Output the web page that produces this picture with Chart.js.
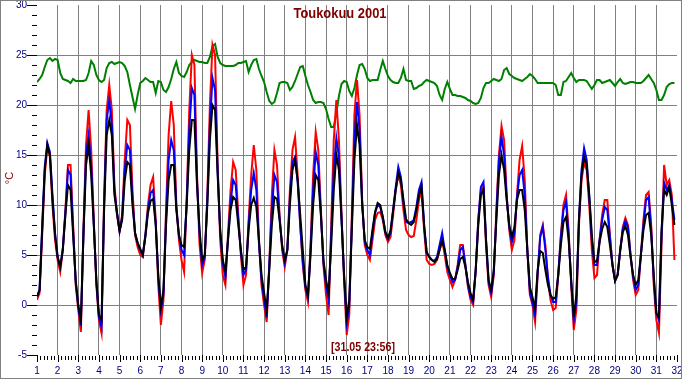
<!DOCTYPE html>
<html>
<head>
<meta charset="utf-8">
<script src="https://cdn.jsdelivr.net/npm/chart.js@4"></script>
<style>
  html, body { margin: 0; padding: 0; background: #ffffff; }
  #wrap { width: 682px; height: 380px; position: relative; }
  canvas { display: block; background: #ffffff; }
</style>
</head>
<body>
<div id="wrap"><canvas id="c" width="682" height="380"></canvas></div>
<script>
// ---- Data (3-hour samples starting at day 1, 00:00) ----
const samplesPerDay = 8;
const firstDay = 1;

const greenSeries = [
  22.3,22.6,23.0,23.8,24.5,24.7,24.4,24.6,
  24.5,23.2,22.6,22.5,22.4,22.2,22.6,22.4,
  22.4,22.4,22.4,22.5,23.2,24.4,24.0,23.0,
  22.5,22.3,22.5,23.7,24.2,24.3,24.1,24.2,
  24.3,24.2,23.9,23.3,22.0,20.8,19.6,21.0,
  22.2,22.4,22.7,22.5,22.3,22.3,21.2,22.4,
  22.3,21.5,21.3,21.8,22.6,23.6,24.3,23.2,
  22.9,22.8,23.3,24.0,24.3,24.5,24.4,24.3,
  24.3,24.2,24.2,24.8,25.9,26.1,24.8,24.2,
  24.0,23.9,23.9,23.9,23.9,24.0,24.2,24.2,
  24.3,24.4,23.3,24.0,24.5,24.6,23.6,22.9,
  22.3,21.3,20.4,20.1,20.3,21.2,22.2,22.3,
  22.3,22.2,21.5,21.8,22.4,23.1,23.8,23.9,
  22.9,22.0,21.3,20.5,20.2,20.3,20.3,20.2,
  19.6,18.6,17.8,17.8,19.2,20.9,22.1,22.4,
  22.3,21.4,20.9,21.7,23.0,24.0,24.1,23.6,
  22.7,22.4,22.5,22.5,22.5,23.5,24.4,23.6,
  22.9,22.5,22.3,22.2,22.2,22.7,23.6,22.5,
  22.4,22.4,21.6,21.7,21.9,22.0,22.3,22.5,
  22.4,22.3,22.2,21.9,21.0,20.5,21.6,22.3,
  21.6,21.0,21.0,20.9,20.9,20.8,20.7,20.5,
  20.4,20.2,20.1,20.2,20.7,21.7,22.2,22.2,
  22.4,22.6,22.5,22.4,22.6,23.5,23.7,23.1,
  22.9,22.7,22.6,22.5,22.4,22.6,22.8,23.1,
  22.9,22.6,22.2,22.2,22.2,22.2,22.2,22.2,
  22.2,22.0,21.0,21.0,22.3,22.4,22.8,23.2,
  22.7,22.3,22.5,22.5,22.5,22.4,22.0,21.6,
  22.0,22.5,22.5,22.2,22.3,22.4,22.5,22.2,
  21.9,22.3,22.6,22.2,22.1,22.2,22.3,22.3,
  22.2,22.2,22.2,22.4,22.7,23.0,22.6,22.2,
  21.5,20.5,20.5,21.0,21.8,22.1,22.2,22.2
];

const redSeries = [
  0.5,1.2,7.0,13.0,15.8,14.8,10.0,6.5,
  4.5,3.3,5.5,9.5,14.0,14.0,8.0,2.0,
  -0.5,-2.7,7.5,16.0,19.5,15.5,8.5,2.0,
  -1.5,-2.8,10.5,19.5,22.0,19.5,12.0,9.0,
  7.4,9.0,14.5,18.5,18.0,11.5,7.0,5.8,
  5.0,4.8,7.0,10.0,12.0,12.8,8.5,2.0,
  -2.0,0.5,9.5,17.0,20.4,18.0,10.0,6.5,
  4.5,3.3,10.5,19.5,25.0,24.0,13.0,6.0,
  3.2,4.5,11.0,20.0,26.0,25.0,14.0,6.5,
  3.0,2.0,7.0,11.5,14.3,13.5,9.0,5.0,
  2.0,3.0,8.5,13.0,16.0,13.5,6.5,2.0,
  0.0,-1.7,4.0,11.0,15.5,14.0,9.0,5.5,
  3.8,5.5,11.5,15.5,16.8,13.0,8.0,4.0,
  1.5,0.3,6.0,13.0,17.3,15.5,9.5,4.0,
  1.0,-1.0,8.0,16.5,20.5,16.5,9.0,2.5,
  -3.0,-1.0,9.0,19.0,22.5,19.0,10.5,6.0,
  5.0,4.5,6.5,8.5,9.2,9.3,8.5,7.0,
  6.3,6.8,9.0,11.5,13.0,12.0,9.5,7.5,
  7.0,6.8,6.9,8.5,10.5,11.5,7.5,4.5,
  4.1,4.0,4.1,4.5,5.5,6.5,5.0,3.3,
  2.5,1.8,2.5,4.0,6.0,6.0,4.0,1.8,
  0.5,0.0,3.5,8.5,11.5,11.8,6.0,2.0,
  0.8,3.0,9.5,15.0,17.9,16.5,11.0,7.5,
  5.5,6.5,11.0,14.5,15.9,12.5,5.5,1.0,
  0.0,-1.7,3.0,7.0,8.0,6.0,2.5,0.5,
  -0.5,-0.3,3.0,7.0,10.0,11.0,7.5,2.0,
  -2.5,-0.5,8.0,12.5,14.2,13.5,10.0,5.5,
  2.7,3.0,6.5,9.0,10.5,10.5,7.0,4.0,
  2.5,3.0,5.5,7.8,8.7,8.0,5.0,2.5,
  1.0,1.5,5.0,8.5,11.0,11.3,8.0,2.0,
  -1.5,-2.8,6.0,14.0,12.0,12.5,11.0,4.5
];

const blueSeries = [
  0.8,1.5,7.8,13.8,16.2,15.3,11.0,7.2,
  4.8,3.8,5.6,9.2,13.5,13.0,7.5,2.3,
  -0.2,-2.0,7.2,15.0,17.0,14.0,8.2,2.3,
  -1.2,-2.2,10.0,18.5,20.5,18.0,11.5,9.2,
  7.4,8.8,13.5,16.0,15.5,10.5,7.2,6.2,
  5.5,5.0,7.0,9.5,11.2,11.5,8.2,2.7,
  -0.5,1.0,8.8,14.5,16.5,15.5,9.8,7.0,
  5.5,5.0,10.2,17.5,21.7,21.0,12.5,7.0,
  4.0,4.8,10.5,18.0,22.7,21.5,13.5,7.2,
  4.2,2.8,6.5,10.2,12.5,12.0,8.5,5.3,
  3.0,3.5,8.0,11.5,13.2,11.5,6.2,2.5,
  0.6,-1.2,3.8,9.5,13.0,12.3,8.7,5.8,
  4.2,5.5,10.8,14.3,14.8,12.3,8.0,4.3,
  1.8,0.8,5.5,11.5,15.3,14.0,9.2,4.2,
  2.0,0.5,7.0,13.5,16.7,14.8,8.8,2.8,
  -1.8,-0.2,8.2,16.5,20.3,17.5,10.2,6.3,
  5.5,5.0,7.2,9.2,10.0,9.8,8.8,7.2,
  6.6,7.2,9.5,11.8,13.8,12.8,10.2,8.3,
  8.2,8.3,8.5,9.8,11.5,12.3,8.0,5.2,
  4.8,4.5,4.4,4.8,6.0,7.2,5.5,3.8,
  3.0,2.3,2.5,3.8,5.5,5.8,4.0,2.0,
  0.8,0.3,3.5,8.5,11.8,12.3,6.5,2.3,
  1.2,3.2,9.0,14.5,16.8,15.0,10.8,7.8,
  6.3,7.2,10.8,13.0,13.5,11.0,5.5,1.3,
  0.2,-1.0,3.2,6.8,7.8,5.5,2.8,1.0,
  0.3,0.3,3.2,6.8,9.5,10.3,7.0,2.3,
  -1.5,0.3,8.5,13.5,15.7,14.5,10.8,6.5,
  4.0,4.0,6.5,8.5,9.8,9.5,6.8,4.0,
  2.4,3.0,5.5,7.6,8.4,7.8,5.0,2.8,
  1.5,2.0,5.0,8.0,10.5,10.8,7.5,2.5,
  -0.8,-1.5,7.0,12.2,11.5,12.0,10.5,8.5
];

const blackSeries = [
  0.9,1.5,7.5,13.5,16.0,15.0,10.5,7.0,
  4.8,3.8,5.5,9.0,12.0,11.5,7.0,2.5,
  0.0,-1.5,7.0,14.0,16.0,13.0,8.0,2.5,
  -1.0,-1.5,9.5,17.0,18.5,17.0,11.0,9.2,
  7.4,8.5,12.5,14.3,14.0,10.0,7.2,6.2,
  5.6,5.0,6.8,9.2,10.4,10.6,8.0,3.0,
  -0.2,1.5,8.0,12.5,14.0,14.0,9.5,7.0,
  6.0,5.8,10.0,15.5,18.5,18.5,12.0,7.5,
  4.5,5.0,10.0,16.5,20.0,19.5,13.0,7.5,
  4.5,3.3,6.5,9.5,10.8,10.5,8.0,5.5,
  3.5,3.8,7.5,10.0,10.7,9.8,6.5,3.0,
  1.2,-0.5,3.5,8.0,10.8,10.6,8.5,6.0,
  4.5,5.5,10.0,13.5,14.5,12.5,9.0,5.5,
  2.0,1.0,5.0,10.0,13.0,12.5,9.0,4.5,
  2.5,1.2,6.0,11.5,15.0,13.5,8.5,3.0,
  -1.2,0.5,7.5,14.5,18.0,16.0,10.0,6.5,
  5.8,5.6,7.5,9.3,10.2,10.0,8.8,7.3,
  6.7,7.5,9.5,11.5,13.2,12.5,10.5,8.6,
  8.2,8.0,8.3,9.5,11.0,11.8,8.0,5.3,
  4.8,4.5,4.3,4.6,5.5,6.4,5.5,4.0,
  3.2,2.6,2.6,3.5,4.6,4.8,3.8,2.3,
  1.2,0.5,3.5,8.0,11.0,11.5,6.5,2.5,
  1.5,3.5,8.5,13.0,15.0,13.5,10.5,8.0,
  6.8,7.8,10.5,11.5,11.5,9.5,5.5,1.8,
  0.8,-0.3,3.5,5.4,5.2,3.5,2.0,1.0,
  0.6,0.8,3.0,6.0,8.3,8.8,6.5,2.5,
  -1.2,1.0,8.5,13.0,14.8,14.0,11.0,7.0,
  4.3,4.4,6.3,7.6,8.3,7.8,6.0,4.0,
  2.4,3.0,5.5,7.3,7.9,7.0,4.8,3.0,
  2.0,2.5,5.0,7.5,9.0,9.2,7.0,3.0,
  -0.8,-1.2,7.5,11.5,11.0,11.8,10.0,8.0
];

const xTickLabels = ['1','2','3','4','5','6','7','8','9','10','11','12','13','14','15','16',
                     '17','18','19','20','21','22','23','24','25','26','27','28','29','30','31','32'];
const yTickLabels = ['-5','0','5','10','15','20','25','30'];
const titleText = 'Toukokuu 2001';
const stampText = '[31.05 23:56]';
const unitText = '°C';

// ---- helpers ----
function toPoints(arr) {
  return arr.map((v, i) => ({ x: firstDay + i / samplesPerDay, y: v }));
}

const SANS = '"Liberation Sans", Arial, sans-serif';
const xMin = Number(xTickLabels[0]);
const xMax = Number(xTickLabels[xTickLabels.length - 1]);
const yMin = Number(yTickLabels[0]);
const yMax = Number(yTickLabels[yTickLabels.length - 1]);

// draw centred text squeezed horizontally to a target width (narrow look)
function narrowText(ctx, text, cx, baseline, font, targetW) {
  ctx.save();
  ctx.font = font;
  const w = ctx.measureText(text).width;
  const sx = Math.min(1, targetW / w);
  ctx.translate(cx, baseline);
  ctx.scale(sx, 1);
  ctx.textAlign = 'center';
  ctx.textBaseline = 'alphabetic';
  ctx.fillText(text, 0, 0);
  ctx.restore();
}

const decor = {
  id: 'decor',
  beforeDraw(chart) {
    const ctx = chart.ctx;
    ctx.save();
    ctx.fillStyle = '#ffffff';
    ctx.fillRect(0, 0, chart.width, chart.height);
    ctx.restore();
  },
  afterDraw(chart) {
    const ctx = chart.ctx;
    const xs = chart.scales.x, ys = chart.scales.y;
    const area = chart.chartArea;
    ctx.save();
    ctx.strokeStyle = '#000000';
    ctx.lineWidth = 1;
    // y ticks (major every 5, minor every 1)
    for (let v = yMin; v <= yMax; v++) {
      const y = Math.round(ys.getPixelForValue(v)) + 0.5;
      const major = (v % 5 === 0);
      ctx.beginPath();
      ctx.moveTo(area.left - (major ? 10 : 5), y);
      ctx.lineTo(area.left, y);
      ctx.stroke();
    }
    // x ticks (major each day, minor every 4 hours)
    for (let d = xMin; d <= xMax; d++) {
      const x = Math.round(xs.getPixelForValue(d)) + 0.5;
      ctx.beginPath();
      ctx.moveTo(x, area.bottom);
      ctx.lineTo(x, area.bottom + 7);
      ctx.stroke();
      if (d < xMax) {
        for (let k = 1; k < 6; k++) {
          const xm = Math.round(xs.getPixelForValue(d + k / 6)) + 0.5;
          ctx.beginPath();
          ctx.moveTo(xm, area.bottom + 1);
          ctx.lineTo(xm, area.bottom + 5);
          ctx.stroke();
        }
      }
    }
    // tick labels
    ctx.fillStyle = '#000080';
    ctx.font = '10px ' + SANS;
    ctx.textAlign = 'center';
    ctx.textBaseline = 'middle';
    xTickLabels.forEach(t => {
      ctx.fillText(t, xs.getPixelForValue(Number(t)), area.bottom + 16);
    });
    ctx.textAlign = 'right';
    yTickLabels.forEach(t => {
      ctx.fillText(t, area.left - 10, ys.getPixelForValue(Number(t)) + 0.5);
    });
    // title
    ctx.fillStyle = '#800000';
    narrowText(ctx, titleText, 340, 18, 'bold 15.5px ' + SANS, 93);
    // time stamp
    narrowText(ctx, stampText, 363, 351, 'bold 12.5px ' + SANS, 64);
    // unit label (rotated)
    ctx.save();
    ctx.translate(10, 178);
    ctx.rotate(-Math.PI / 2);
    ctx.font = '11px ' + SANS;
    ctx.textAlign = 'center';
    ctx.textBaseline = 'middle';
    ctx.fillText(unitText, 0, 0);
    ctx.restore();
    // frame
    ctx.strokeStyle = '#808080';
    ctx.strokeRect(0.5, 0.5, 681, 378);
    ctx.restore();
  }
};

const ds = (label, arr, color, order) => ({
  label, data: toPoints(arr), borderColor: color, backgroundColor: color,
  borderWidth: 2, pointRadius: 0, tension: 0, fill: false, order
});

new Chart(document.getElementById('c'), {
  type: 'line',
  data: {
    datasets: [
      ds('black', blackSeries, '#000000', 0),
      ds('blue', blueSeries, '#0000ff', 1),
      ds('red', redSeries, '#ff0000', 2),
      ds('green', greenSeries, '#008000', 3)
    ]
  },
  options: {
    responsive: false,
    devicePixelRatio: 1,
    animation: false,
    events: [],
    layout: { padding: { top: 5, right: 5, left: 0, bottom: 0 } },
    plugins: { legend: { display: false }, tooltip: { enabled: false }, title: { display: false } },
    scales: {
      x: {
        type: 'linear', min: xMin, max: xMax,
        ticks: { display: false, stepSize: 1, autoSkip: false },
        grid: {
          drawTicks: false,
          color: c => (c.tick && c.tick.value > xMin && c.tick.value < xMax) ? '#808080' : 'rgba(0,0,0,0)',
          lineWidth: 1
        },
        border: { display: false },
        afterFit: s => { s.height = 25; }
      },
      y: {
        type: 'linear', min: yMin, max: yMax,
        ticks: { display: false, stepSize: 5, autoSkip: false },
        grid: {
          drawTicks: false,
          color: c => (c.tick && c.tick.value > yMin && c.tick.value < yMax) ? '#808080' : 'rgba(0,0,0,0)',
          lineWidth: 1
        },
        border: { display: false },
        afterFit: s => { s.width = 37; }
      }
    }
  },
  plugins: [decor]
});
</script>
</body>
</html>
